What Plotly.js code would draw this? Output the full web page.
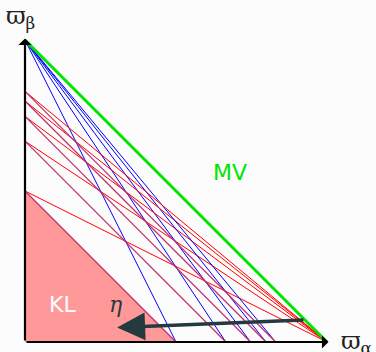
<!DOCTYPE html>
<html><head><meta charset="utf-8">
<script src="https://cdn.plot.ly/plotly-3.0.1.min.js"></script>
<style>body{margin:0;background:#fcfcfc}</style>
</head><body><div id="c" style="width:376px;height:352px"></div>
<script>
// intercepts c: lines through (0,c) and (c,0)
const levels = [0.5, 0.665, 0.747, 0.798, 0.83];
const mvLine = {x:[0,1], y:[1,0]};
const arrowFrom = {x:0.927, y:0.073};
const arrowTo = {x:0.305, y:0.048};

const traces = [];
// pink KL triangle
traces.push({x:[0,0,levels[0],0], y:[0,levels[0],0,0], mode:'lines', fill:'toself',
  fillcolor:'#ff9999', line:{width:0}, hoverinfo:'skip'});
levels.forEach(c=>{
  traces.push({x:[0,c], y:[1,0], mode:'lines', line:{color:'#0000ff', width:1}, hoverinfo:'skip'});
  traces.push({x:[0,1], y:[c,0], mode:'lines', line:{color:'#ff0000', width:1}, hoverinfo:'skip'});
  traces.push({x:[0,c], y:[c,0], mode:'lines', line:{color:'#c0306a', width:1.2}, hoverinfo:'skip'});
});
traces.push({x:mvLine.x, y:mvLine.y, mode:'lines', line:{color:'#00e600', width:3}, hoverinfo:'skip'});

const layout = {
  width:376, height:352, margin:{l:0,r:0,t:0,b:0},
  paper_bgcolor:'#fcfcfc', plot_bgcolor:'#fcfcfc', showlegend:false,
  xaxis:{range:[-25/302, 351/302], visible:false, fixedrange:true},
  yaxis:{range:[-10/302, 1+40/302], visible:false, fixedrange:true},
  annotations:[
    {x:1.005, y:0, ax:0, ay:0, axref:'x', ayref:'y', xref:'x', yref:'y', showarrow:true, arrowhead:1, arrowsize:1, arrowwidth:2.2, arrowcolor:'#000', text:''},
    {x:0, y:1.005, ax:0, ay:0, axref:'x', ayref:'y', xref:'x', yref:'y', showarrow:true, arrowhead:1, arrowsize:1, arrowwidth:2.2, arrowcolor:'#000', text:''},
    {x:arrowTo.x, y:arrowTo.y, ax:arrowFrom.x, ay:arrowFrom.y, axref:'x', ayref:'y', xref:'x', yref:'y', showarrow:true, arrowhead:2, arrowsize:1.6, arrowwidth:3.5, arrowcolor:'#253a3f', text:''},
    {x:0.125, y:0.125, xref:'x', yref:'y', text:'KL', showarrow:false, font:{family:'DejaVu Sans', size:22, color:'#ffffff'}},
    {x:0.3, y:0.125, xref:'x', yref:'y', text:'<i>η</i>', showarrow:false, font:{family:'DejaVu Serif', size:22, color:'#253a3f'}},
    {x:0.68, y:0.56, xref:'x', yref:'y', text:'MV', showarrow:false, font:{family:'DejaVu Sans', size:22, color:'#00e600'}},
    {x:-0.07, y:1.075, xref:'x', yref:'y', xanchor:'left', yanchor:'middle', text:'ϖ<sub>β</sub>', showarrow:false, font:{family:'DejaVu Serif', size:24, color:'#222'}},
    {x:1.04, y:0.0, xref:'x', yref:'y', xanchor:'left', yanchor:'middle', text:'ϖ<sub>α</sub>', showarrow:false, font:{family:'DejaVu Serif', size:24, color:'#222'}}
  ]
};
Plotly.newPlot('c', traces, layout, {staticPlot:true});
</script></body></html>
